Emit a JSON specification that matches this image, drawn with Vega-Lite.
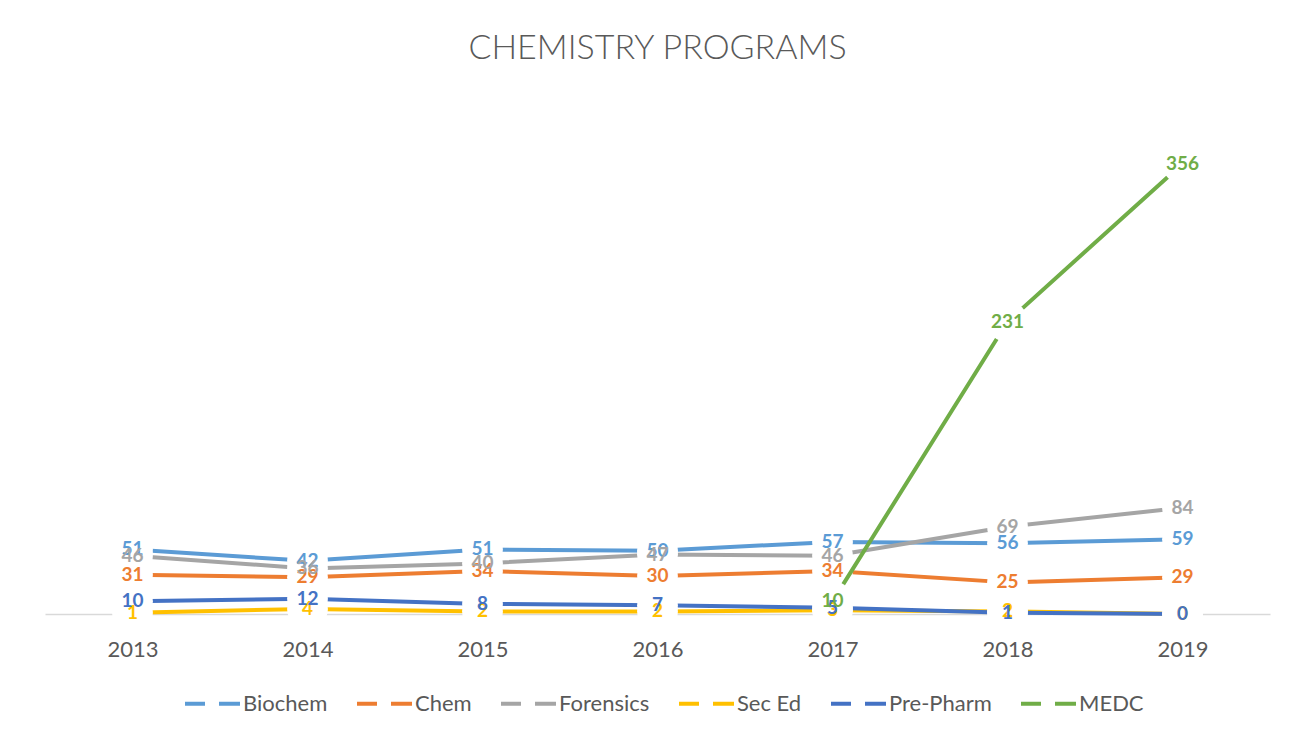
{
  "$schema": "https://vega.github.io/schema/vega-lite/v6.json",
  "width": 1225,
  "height": 506,
  "autosize": {"type": "none"},
  "padding": {"left": 45, "top": 108, "right": 34, "bottom": 124},
  "background": "white",
  "config": {"view": {"stroke": null}},
  "title": {
    "text": "CHEMISTRY PROGRAMS",
    "font": "Lato",
    "fontSize": 34,
    "fontWeight": 300,
    "color": "#595959",
    "anchor": "middle",
    "baseline": "alphabetic",
    "offset": 15
  },
  "data": {
    "values": [
      {"year": "2013", "program": "Biochem", "value": 51},
      {"year": "2014", "program": "Biochem", "value": 42},
      {"year": "2015", "program": "Biochem", "value": 51},
      {"year": "2016", "program": "Biochem", "value": 50},
      {"year": "2017", "program": "Biochem", "value": 57},
      {"year": "2018", "program": "Biochem", "value": 56},
      {"year": "2019", "program": "Biochem", "value": 59},
      {"year": "2013", "program": "Chem", "value": 31},
      {"year": "2014", "program": "Chem", "value": 29},
      {"year": "2015", "program": "Chem", "value": 34},
      {"year": "2016", "program": "Chem", "value": 30},
      {"year": "2017", "program": "Chem", "value": 34},
      {"year": "2018", "program": "Chem", "value": 25},
      {"year": "2019", "program": "Chem", "value": 29},
      {"year": "2013", "program": "Forensics", "value": 46},
      {"year": "2014", "program": "Forensics", "value": 36},
      {"year": "2015", "program": "Forensics", "value": 40},
      {"year": "2016", "program": "Forensics", "value": 47},
      {"year": "2017", "program": "Forensics", "value": 46},
      {"year": "2018", "program": "Forensics", "value": 69},
      {"year": "2019", "program": "Forensics", "value": 84},
      {"year": "2013", "program": "Sec Ed", "value": 1},
      {"year": "2014", "program": "Sec Ed", "value": 4},
      {"year": "2015", "program": "Sec Ed", "value": 2},
      {"year": "2016", "program": "Sec Ed", "value": 2},
      {"year": "2017", "program": "Sec Ed", "value": 3},
      {"year": "2018", "program": "Sec Ed", "value": 2},
      {"year": "2019", "program": "Sec Ed", "value": 0},
      {"year": "2013", "program": "Pre-Pharm", "value": 10},
      {"year": "2014", "program": "Pre-Pharm", "value": 12},
      {"year": "2015", "program": "Pre-Pharm", "value": 8},
      {"year": "2016", "program": "Pre-Pharm", "value": 7},
      {"year": "2017", "program": "Pre-Pharm", "value": 5},
      {"year": "2018", "program": "Pre-Pharm", "value": 1},
      {"year": "2019", "program": "Pre-Pharm", "value": 0},
      {"year": "2017", "program": "MEDC", "value": 10},
      {"year": "2018", "program": "MEDC", "value": 231},
      {"year": "2019", "program": "MEDC", "value": 356}
    ]
  },
  "encoding": {
    "x": {
      "field": "year",
      "type": "ordinal",
      "sort": null,
      "scale": {"type": "point", "padding": 0.5},
      "axis": {
        "title": null,
        "domainColor": "#D9D9D9",
        "domainWidth": 1.3,
        "ticks": false,
        "tickSize": 0,
        "grid": false,
        "labelAngle": 0,
        "labelPadding": 25,
        "labelFont": "Lato",
        "labelFontSize": 22,
        "labelColor": "#595959"
      }
    },
    "y": {
      "field": "value",
      "type": "quantitative",
      "scale": {"domain": [0, 400], "nice": false, "zero": true},
      "axis": null
    }
  },
  "layer": [
    {
      "transform": [{"filter": "datum.program !== 'MEDC'"}],
      "mark": {"type": "line", "strokeWidth": 4, "strokeCap": "butt", "strokeJoin": "round"},
      "encoding": {
        "color": {
          "field": "program",
          "type": "nominal",
          "scale": {
            "domain": ["Biochem", "Chem", "Forensics", "Sec Ed", "Pre-Pharm", "MEDC"],
            "range": ["#5B9BD5", "#ED7D31", "#A5A5A5", "#FFC000", "#4472C4", "#70AD47"]
          },
          "legend": {
            "title": null,
            "orient": "none",
            "legendX": 138,
            "legendY": 566,
            "direction": "horizontal",
            "columns": 6,
            "symbolType": "stroke",
            "symbolSize": 3025,
            "symbolStrokeWidth": 4,
            "symbolDash": [20, 14, 21, 100],
            "labelFont": "Lato",
            "labelFontSize": 22,
            "labelColor": "#595959",
            "labelOffset": 1,
            "columnPadding": 21
          }
        }
      }
    },
    {
      "transform": [{"filter": "datum.program !== 'MEDC'"}],
      "mark": {"type": "point", "shape": "circle", "filled": true, "fill": "white", "opacity": 1, "size": 1662, "strokeWidth": 0}
    },
    {
      "transform": [{"filter": "datum.program === 'MEDC'"}],
      "mark": {"type": "line", "strokeWidth": 4, "strokeCap": "butt", "strokeJoin": "round"},
      "encoding": {
        "color": {"field": "program", "type": "nominal"}
      }
    },
    {
      "transform": [{"filter": "datum.program === 'MEDC'"}],
      "mark": {"type": "point", "shape": "circle", "filled": true, "fill": "white", "opacity": 1, "size": 1662, "strokeWidth": 0}
    },
    {
      "mark": {"type": "text", "font": "Lato", "fontSize": 19, "fontWeight": "bold"},
      "encoding": {
        "text": {"field": "value", "type": "quantitative"},
        "color": {"field": "program", "type": "nominal"}
      }
    }
  ]
}
